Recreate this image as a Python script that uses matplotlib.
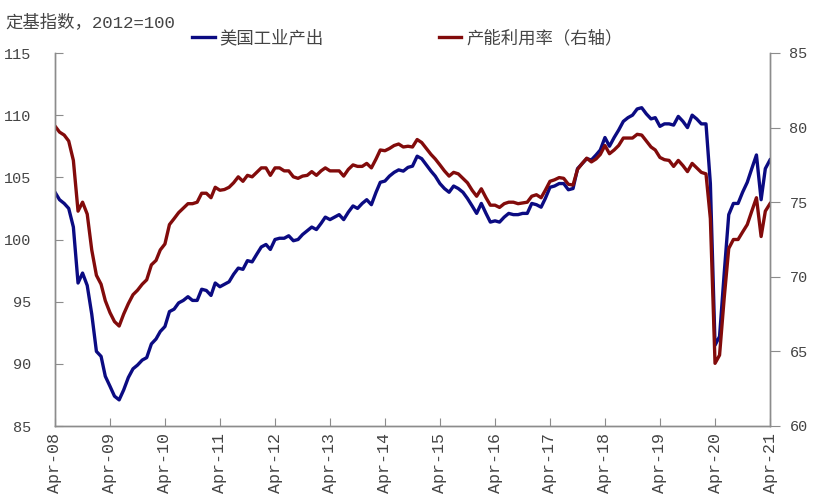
import matplotlib
matplotlib.use("Agg")
import matplotlib.pyplot as plt
import pandas as pd

# 半角字符用等宽衬线字体（模仿宋体西文），中文回退到 Noto Sans CJK
plt.rcParams["font.family"] = ["Liberation Mono", "Noto Sans CJK SC", "DejaVu Sans"]

# ── 数据：2008-04 至 2021-04 月度 ───────────────────────────
months = pd.date_range("2008-04-01", "2021-04-01", freq="MS")

# 美国工业产出，定基指数 2012=100（左轴）
ip = [
    103.8, 103.2, 102.9, 102.5, 101.0, 96.5, 97.3, 96.3, 94.0,
    91.0, 90.6, 89.0, 88.2, 87.4, 87.1, 87.9, 88.9, 89.6, 89.9, 90.3, 90.5,
    91.6, 92.0, 92.6, 93.0, 94.2, 94.4, 94.9, 95.1, 95.4, 95.1, 95.1, 96.0,
    95.9, 95.5, 96.5, 96.2, 96.4, 96.6, 97.2, 97.7, 97.6, 98.3, 98.2, 98.8,
    99.4, 99.6, 99.2, 100.0, 100.1, 100.1, 100.3, 99.9, 100.0, 100.4, 100.7, 101.0,
    100.8, 101.3, 101.8, 101.6, 101.8, 102.0, 101.6, 102.2, 102.7, 102.5, 102.9, 103.2,
    102.8, 103.8, 104.6, 104.7, 105.1, 105.4, 105.6, 105.5, 105.8, 105.9, 106.7, 106.5,
    106.0, 105.5, 105.1, 104.5, 104.1, 103.8, 104.3, 104.1, 103.8, 103.3, 102.7, 102.1,
    102.9, 102.1, 101.4, 101.5, 101.4, 101.8, 102.1, 102.0, 102.0, 102.1, 102.1, 102.9,
    102.8, 102.6, 103.3, 104.2, 104.3, 104.5, 104.5, 104.0, 104.1, 105.7, 106.1, 106.5,
    106.4, 106.8, 107.2, 108.2, 107.5, 108.2, 108.8, 109.5, 109.8, 110.0, 110.5, 110.6,
    110.1, 109.7, 109.8, 109.1, 109.3, 109.3, 109.2, 109.9, 109.5, 109.0, 110.0, 109.7,
    109.3, 109.3, 104.5, 91.5, 92.2, 97.3, 102.0, 102.9, 102.9, 103.8, 104.6, 105.7,
    106.8, 103.2, 105.7, 106.4,
]

# 产能利用率 %（右轴）
cu = [
    80.1, 79.7, 79.5, 79.1, 77.8, 74.4, 75.0, 74.2, 71.8,
    70.1, 69.5, 68.4, 67.6, 67.0, 66.7, 67.5, 68.2, 68.8, 69.1, 69.5, 69.8,
    70.8, 71.1, 71.8, 72.2, 73.5, 73.9, 74.3, 74.6, 74.9, 74.9, 75.0, 75.6,
    75.6, 75.3, 76.0, 75.8, 75.85, 76.0, 76.3, 76.7, 76.4, 76.8, 76.7, 77.0,
    77.3, 77.3, 76.8, 77.3, 77.3, 77.1, 77.1, 76.7, 76.6, 76.75, 76.8, 77.05,
    76.8, 77.1, 77.3, 77.1, 77.1, 77.1, 76.75, 77.2, 77.5, 77.4, 77.4, 77.6,
    77.3, 77.9, 78.5, 78.45, 78.6, 78.8, 78.9, 78.7, 78.75, 78.7, 79.2, 79.0,
    78.6, 78.2, 77.9, 77.5, 77.1, 76.75, 77.0, 76.9, 76.6, 76.3, 75.8, 75.4,
    75.9, 75.3, 74.8, 74.8, 74.65, 74.9, 75.0, 75.0, 74.9, 74.95, 75.0, 75.4,
    75.5, 75.3, 75.8, 76.4, 76.5, 76.65, 76.6, 76.2, 76.15, 77.2, 77.6, 77.95,
    77.7, 77.9, 78.2, 78.8, 78.25, 78.5, 78.8, 79.3, 79.3, 79.3, 79.55, 79.5,
    79.1, 78.7, 78.5, 78.0, 77.85, 77.8, 77.4, 77.8, 77.45, 77.05, 77.6, 77.3,
    77.0, 76.9, 73.9, 64.2, 64.75, 68.6, 71.9, 72.5, 72.5, 73.0, 73.5, 74.4,
    75.3, 72.7, 74.4, 74.9,
]

tick_dates = [pd.Timestamp(y, 4, 1) for y in range(2008, 2022)]
tick_labels = [d.strftime("%b-%y") for d in tick_dates]
left_ticks = [85, 90, 95, 100, 105, 110, 115]
right_ticks = [60, 65, 70, 75, 80, 85]

BLUE = "#0b0b82"
RED = "#820b0b"
GREY = "#8c8c8c"
TXT = "#444444"

# ── 绘图 ────────────────────────────────────────────────────
fig = plt.figure(figsize=(8.13, 5.0), dpi=100)
ax = fig.add_axes([55 / 813, 74 / 500, 715 / 813, 373 / 500])
ax2 = ax.twinx()

l1, = ax.plot(months, ip, color=BLUE, lw=2.4, label="美国工业产出")
l2, = ax2.plot(months, cu, color=RED, lw=2.4, label="产能利用率（右轴）")

ax.set_xlim(months[0], months[-1])
ax.set_ylim(85, 115)
ax2.set_ylim(60, 85)
ax.set_yticks(left_ticks)
ax2.set_yticks(right_ticks)
ax.set_xticks(tick_dates)
ax.set_xticklabels(tick_labels, rotation=90)

for a in (ax, ax2):
    a.spines["top"].set_visible(False)
    for s in ("left", "right", "bottom"):
        a.spines[s].set_color(GREY)
        a.spines[s].set_linewidth(1.0)

ax.tick_params(axis="y", direction="in", length=6, color=GREY,
               labelsize=11, labelcolor=TXT, pad=17)
ax.tick_params(axis="x", direction="in", length=6, color=GREY,
               labelsize=12, labelcolor=TXT, pad=5)
ax2.tick_params(axis="y", direction="out", length=7, color=GREY,
                labelsize=11, labelcolor=TXT, pad=7)

fig.text(5 / 813, 1 - 22 / 500, "定基指数，2012=100", fontsize=12.5,
         color=TXT, va="center", ha="left")

fig.legend([l1, l2], [l1.get_label(), l2.get_label()],
           loc="center left", bbox_to_anchor=(192 / 813, 1 - 38 / 500),
           ncol=2, frameon=False, fontsize=12.5, handlelength=1.3,
           handletextpad=0.3, columnspacing=6.6, borderpad=0,
           borderaxespad=0, labelcolor=TXT)

fig.savefig("out.png", dpi=100)
